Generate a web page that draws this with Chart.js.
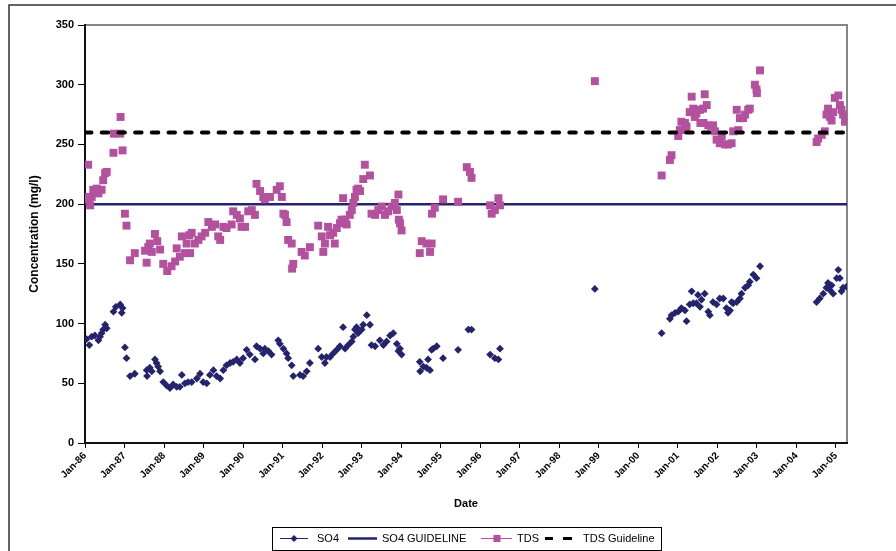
<!DOCTYPE html>
<html>
<head>
<meta charset="utf-8">
<title>SO4 and TDS concentration</title>
<script src="https://cdn.jsdelivr.net/npm/chart.js@4.4.1/dist/chart.umd.min.js"></script>
<style>
  body { margin: 0; background: #fff; }
  canvas { display: block; }
</style>
</head>
<body>
<canvas id="chart" width="896" height="551"></canvas>
<script>
// ============================================
// DATA (dates as decimal years)
// ============================================

const tickYears = [1986, 1987, 1988, 1989, 1990, 1991, 1992, 1993, 1994, 1995,
                   1996, 1997, 1998, 1999, 2000, 2001, 2002, 2003, 2004, 2005];
const tickLabels = ['Jan-86', 'Jan-87', 'Jan-88', 'Jan-89', 'Jan-90', 'Jan-91', 'Jan-92',
                    'Jan-93', 'Jan-94', 'Jan-95', 'Jan-96', 'Jan-97', 'Jan-98', 'Jan-99',
                    'Jan-00', 'Jan-01', 'Jan-02', 'Jan-03', 'Jan-04', 'Jan-05'];
const yTicks = [0, 50, 100, 150, 200, 250, 300, 350];

const guidelineDates = [1986, 2005.28];
const so4Guideline = 200;
const tdsGuideline = 260;

const so4Dates = [
  1986.04, 1986.11, 1986.17, 1986.25, 1986.34, 1986.38, 1986.42, 1986.46, 1986.51, 1986.55,
  1986.72, 1986.78, 1986.89, 1986.95, 1986.93, 1987.01, 1987.05, 1987.14, 1987.26, 1987.56,
  1987.57, 1987.64, 1987.69, 1987.77, 1987.81, 1987.85, 1987.90, 1987.98, 1988.07, 1988.15,
  1988.23, 1988.32, 1988.40, 1988.45, 1988.53, 1988.61, 1988.70, 1988.83, 1988.91, 1988.99,
  1989.08, 1989.16, 1989.25, 1989.33, 1989.42, 1989.50, 1989.58, 1989.67, 1989.75, 1989.84,
  1989.92, 1990.00, 1990.09, 1990.17, 1990.30, 1990.34, 1990.43, 1990.51, 1990.55, 1990.64,
  1990.72, 1990.89, 1990.93, 1991.02, 1991.10, 1991.14, 1991.23, 1991.27, 1991.44, 1991.52,
  1991.61, 1991.69, 1991.90, 1991.99, 1992.07, 1992.11, 1992.20, 1992.28, 1992.37, 1992.45,
  1992.53, 1992.58, 1992.66, 1992.75, 1992.79, 1992.83, 1992.87, 1992.91, 1993.00, 1993.04,
  1993.13, 1993.21, 1993.25, 1993.34, 1993.46, 1993.55, 1993.63, 1993.72, 1993.80, 1993.89,
  1993.93, 1993.97, 1994.01, 1994.47, 1994.48, 1994.56, 1994.64, 1994.68, 1994.73, 1994.77,
  1994.81, 1994.90, 1995.06, 1995.44, 1995.70, 1995.78, 1996.25, 1996.37, 1996.46, 1996.50,
  1998.90, 2000.59, 2000.80, 2000.84, 2000.93, 2001.01, 2001.09, 2001.18, 2001.22, 2001.30,
  2001.35, 2001.39, 2001.47, 2001.51, 2001.56, 2001.60, 2001.68, 2001.77, 2001.81, 2001.89,
  2001.98, 2002.06, 2002.15, 2002.23, 2002.27, 2002.32, 2002.36, 2002.40, 2002.49, 2002.57,
  2002.61, 2002.70, 2002.78, 2002.82, 2002.91, 2002.99, 2003.08, 2004.51, 2004.59, 2004.68,
  2004.76, 2004.80, 2004.85, 2004.89, 2004.93, 2005.02, 2005.06, 2005.10, 2005.14, 2005.18,
  2005.27
];
const so4Values = [
  87, 82, 89, 90, 86, 89, 92, 95, 99, 96,
  110, 114, 116, 113, 109, 80, 71, 56, 58, 61,
  56, 63, 60, 70, 67, 64, 60, 51, 48, 46,
  49, 47, 47, 57, 50, 51, 51, 54, 58, 51,
  50, 57, 61, 56, 54, 61, 65, 67, 68, 70,
  67, 71, 78, 74, 70, 81, 79, 75, 79, 77,
  74, 86, 83, 79, 75, 71, 65, 56, 57, 56,
  60, 67, 79, 72, 67, 72, 72, 75, 78, 81,
  97, 79, 82, 85, 89, 95, 97, 92, 95, 99,
  107, 99, 82, 81, 86, 82, 85, 90, 92, 83,
  77, 79, 74, 68, 60, 64, 63, 70, 61, 78,
  79, 81, 71, 78, 95, 95, 74, 71, 70, 79,
  129, 92, 104, 107, 109, 110, 113, 111, 102, 116,
  127, 117, 117, 124, 114, 120, 125, 110, 107, 118,
  116, 121, 121, 113, 109, 111, 118, 117, 118, 121,
  125, 130, 132, 135, 141, 138, 148, 118, 121, 125,
  130, 134, 128, 132, 125, 138, 145, 138, 127, 130,
  131
];

const tdsDates = [
  1986.00, 1986.08, 1986.09, 1986.13, 1986.17, 1986.21, 1986.30, 1986.34, 1986.42, 1986.46,
  1986.51, 1986.55, 1986.72, 1986.73, 1986.89, 1986.90, 1986.95, 1987.01, 1987.05, 1987.14,
  1987.26, 1987.52, 1987.56, 1987.60, 1987.64, 1987.69, 1987.77, 1987.83, 1987.90, 1987.98,
  1988.08, 1988.19, 1988.28, 1988.32, 1988.40, 1988.45, 1988.53, 1988.57, 1988.64, 1988.66,
  1988.70, 1988.78, 1988.87, 1988.95, 1989.04, 1989.12, 1989.21, 1989.29, 1989.37, 1989.42,
  1989.50, 1989.58, 1989.71, 1989.75, 1989.84, 1989.92, 1989.96, 1990.05, 1990.13, 1990.22,
  1990.30, 1990.34, 1990.43, 1990.51, 1990.55, 1990.68, 1990.85, 1990.93, 1990.98, 1991.02,
  1991.06, 1991.10, 1991.14, 1991.23, 1991.24, 1991.27, 1991.48, 1991.56, 1991.69, 1991.90,
  1991.99, 1992.03, 1992.07, 1992.15, 1992.20, 1992.28, 1992.32, 1992.37, 1992.45, 1992.49,
  1992.53, 1992.58, 1992.62, 1992.70, 1992.75, 1992.79, 1992.83, 1992.87, 1992.91, 1992.96,
  1993.04, 1993.08, 1993.21, 1993.25, 1993.34, 1993.42, 1993.51, 1993.59, 1993.67, 1993.76,
  1993.84, 1993.89, 1993.93, 1993.94, 1993.97, 1994.01, 1994.47, 1994.52, 1994.64, 1994.73,
  1994.77, 1994.78, 1994.85, 1995.06, 1995.44, 1995.66, 1995.74, 1995.78, 1996.25, 1996.29,
  1996.37, 1996.46, 1996.50, 1998.90, 2000.59, 2000.80, 2000.84, 2001.01, 2001.05, 2001.09,
  2001.18, 2001.19, 2001.22, 2001.30, 2001.35, 2001.39, 2001.43, 2001.47, 2001.56, 2001.57,
  2001.64, 2001.65, 2001.68, 2001.73, 2001.77, 2001.85, 2001.89, 2001.94, 2001.98, 2002.06,
  2002.11, 2002.19, 2002.27, 2002.36, 2002.40, 2002.49, 2002.53, 2002.57, 2002.65, 2002.70,
  2002.78, 2002.82, 2002.95, 2002.99, 2003.00, 2003.08, 2004.51, 2004.55, 2004.64, 2004.72,
  2004.76, 2004.80, 2004.85, 2004.89, 2004.93, 2004.97, 2005.06, 2005.10, 2005.14, 2005.18,
  2005.23, 2005.27
];
const tdsValues = [
  206, 233, 204, 199, 206, 212, 213, 209, 212, 220,
  226, 227, 243, 259, 259, 273, 245, 192, 182, 153,
  159, 161, 151, 164, 167, 160, 175, 169, 162, 150,
  144, 148, 152, 163, 156, 173, 159, 167, 174, 159,
  176, 167, 170, 173, 176, 185, 181, 183, 173, 170,
  181, 180, 183, 194, 191, 188, 181, 181, 194, 195,
  191, 217, 211, 206, 204, 206, 212, 215, 206, 192,
  191, 185, 170, 167, 146, 150, 160, 157, 164, 182,
  173, 160, 167, 181, 174, 176, 167, 180, 184, 187,
  205, 187, 183, 191, 195, 201, 206, 212, 213, 211,
  221, 233, 224, 192, 191, 195, 198, 191, 194, 198,
  201, 195, 208, 187, 184, 178, 159, 169, 167, 160,
  167, 192, 197, 204, 202, 231, 227, 222, 199, 192,
  195, 205, 199, 303, 224, 237, 241, 257, 262, 269,
  268, 262, 265, 277, 290, 280, 273, 276, 279, 268,
  280, 268, 292, 283, 266, 265, 266, 261, 254, 251,
  257, 250, 250, 251, 261, 279, 262, 272, 272, 275,
  279, 280, 300, 296, 293, 312, 252, 255, 258, 261,
  275, 280, 273, 270, 277, 289, 291, 283, 279, 275,
  269, 273
];

// ============================================
// STYLE
// ============================================

const NAVY = '#24246e';
const MAGENTA = '#b4519e';
const FONT = "'Liberation Sans', Arial, sans-serif";

Chart.defaults.font.family = FONT;
Chart.defaults.color = '#000';

function toPoints(dates, values) {
    return dates.map((d, i) => ({ x: d, y: values[i] }));
}

// gray plot-area frame and outer chart border
const framePlugin = {
    id: 'frame',
    beforeDraw(chart) {
        const c = chart.ctx;
        const a = chart.chartArea;
        c.save();
        c.fillStyle = '#fff';
        c.fillRect(0, 0, chart.width, chart.height);
        c.strokeStyle = '#333';
        c.lineWidth = 1.5;
        c.beginPath();
        c.moveTo(9, chart.height + 2);
        c.lineTo(9, 5);
        c.lineTo(chart.width + 2, 5);
        c.stroke();
        c.strokeStyle = '#878787';
        c.lineWidth = 2;
        c.beginPath();
        c.moveTo(a.left, a.top);
        c.lineTo(a.right, a.top);
        c.lineTo(a.right, a.bottom);
        c.stroke();
        c.restore();
    }
};

// Excel-style legend box along the bottom
const legendPlugin = {
    id: 'excelLegend',
    afterDraw(chart) {
        const c = chart.ctx;
        const cy = 538.5;
        c.save();
        c.fillStyle = '#fff';
        c.fillRect(272, 527, 389, 23);
        c.strokeStyle = '#000';
        c.lineWidth = 1;
        c.strokeRect(272.5, 527.5, 389, 23);

        // SO4: thin line + diamond
        c.strokeStyle = NAVY;
        c.lineWidth = 1;
        c.beginPath(); c.moveTo(280, cy); c.lineTo(308, cy); c.stroke();
        c.fillStyle = NAVY;
        c.beginPath();
        c.moveTo(294, cy - 3.5); c.lineTo(297.5, cy); c.lineTo(294, cy + 3.5); c.lineTo(290.5, cy);
        c.closePath(); c.fill();

        // SO4 GUIDELINE: solid navy
        c.lineWidth = 2.5;
        c.beginPath(); c.moveTo(348, cy); c.lineTo(377, cy); c.stroke();

        // TDS: thin line + square
        c.strokeStyle = MAGENTA;
        c.lineWidth = 1;
        c.beginPath(); c.moveTo(481, cy); c.lineTo(512, cy); c.stroke();
        c.fillStyle = MAGENTA;
        c.fillRect(493.5, cy - 3.5, 7, 7);

        // TDS Guideline: black dashes
        c.strokeStyle = '#000';
        c.lineWidth = 3;
        c.beginPath();
        c.moveTo(545, cy); c.lineTo(553, cy);
        c.moveTo(563, cy); c.lineTo(572, cy);
        c.stroke();

        c.fillStyle = '#000';
        c.font = '11px ' + FONT;
        c.textBaseline = 'middle';
        c.fillText('SO4', 317, cy);
        c.fillText('SO4 GUIDELINE', 382, cy);
        c.fillText('TDS', 517, cy);
        c.fillText('TDS Guideline', 583, cy);
        c.restore();
    }
};

// ============================================
// CHART
// ============================================

const ctx = document.getElementById('chart').getContext('2d');

new Chart(ctx, {
    type: 'scatter',
    data: {
        datasets: [
            {
                label: 'TDS Guideline',
                data: toPoints(guidelineDates, guidelineDates.map(() => tdsGuideline)),
                showLine: true,
                borderColor: '#000',
                borderWidth: 4,
                borderDash: [6.5, 10.2],
                borderCapStyle: 'round',
                pointRadius: 0,
                order: 0
            },
            {
                label: 'TDS',
                data: toPoints(tdsDates, tdsValues),
                pointStyle: 'rect',
                pointRadius: 5.6,
                pointBackgroundColor: MAGENTA,
                pointBorderWidth: 0,
                order: 1
            },
            {
                label: 'SO4 GUIDELINE',
                data: toPoints(guidelineDates, guidelineDates.map(() => so4Guideline)),
                showLine: true,
                borderColor: NAVY,
                borderWidth: 2.5,
                pointRadius: 0,
                order: 2
            },
            {
                label: 'SO4',
                data: toPoints(so4Dates, so4Values),
                pointStyle: 'rectRot',
                pointRadius: 3.9,
                pointBackgroundColor: NAVY,
                pointBorderWidth: 0,
                order: 3
            }
        ]
    },
    options: {
        responsive: false,
        animation: false,
        devicePixelRatio: 1,
        layout: { padding: { left: 0, right: 49, top: 25, bottom: 38 } },
        plugins: {
            legend: { display: false },
            tooltip: { enabled: false }
        },
        scales: {
            x: {
                type: 'linear',
                min: guidelineDates[0],
                max: guidelineDates[1],
                afterBuildTicks: (scale) => { scale.ticks = tickYears.map(v => ({ value: v })); },
                afterFit: (scale) => { scale.height = 70; },
                ticks: {
                    autoSkip: false,
                    minRotation: 45,
                    maxRotation: 45,
                    padding: 2,
                    color: '#000',
                    font: { size: 10, weight: 'bold' },
                    callback: (value, index) => tickLabels[index]
                },
                grid: { drawOnChartArea: false, drawTicks: true, tickLength: 5, tickColor: '#000' },
                border: { display: true, color: '#111', width: 2 },
                title: {
                    display: true,
                    text: 'Date',
                    color: '#000',
                    font: { size: 11, weight: 'bold' },
                    padding: { top: 4, bottom: 2 }
                }
            },
            y: {
                min: yTicks[0],
                max: yTicks[yTicks.length - 1],
                afterBuildTicks: (scale) => { scale.ticks = yTicks.map(v => ({ value: v })); },
                afterFit: (scale) => { scale.width = 85; },
                ticks: {
                    padding: 4,
                    color: '#000',
                    font: { size: 11, weight: 'bold' }
                },
                grid: { drawOnChartArea: false, drawTicks: true, tickLength: 7, tickColor: '#000' },
                border: { display: true, color: '#111', width: 2 },
                title: {
                    display: true,
                    text: 'Concentration (mg/l)',
                    color: '#000',
                    font: { size: 12, weight: 'bold' },
                    padding: { top: 27, bottom: 0 }
                }
            }
        }
    },
    plugins: [framePlugin, legendPlugin]
});
</script>
</body>
</html>
